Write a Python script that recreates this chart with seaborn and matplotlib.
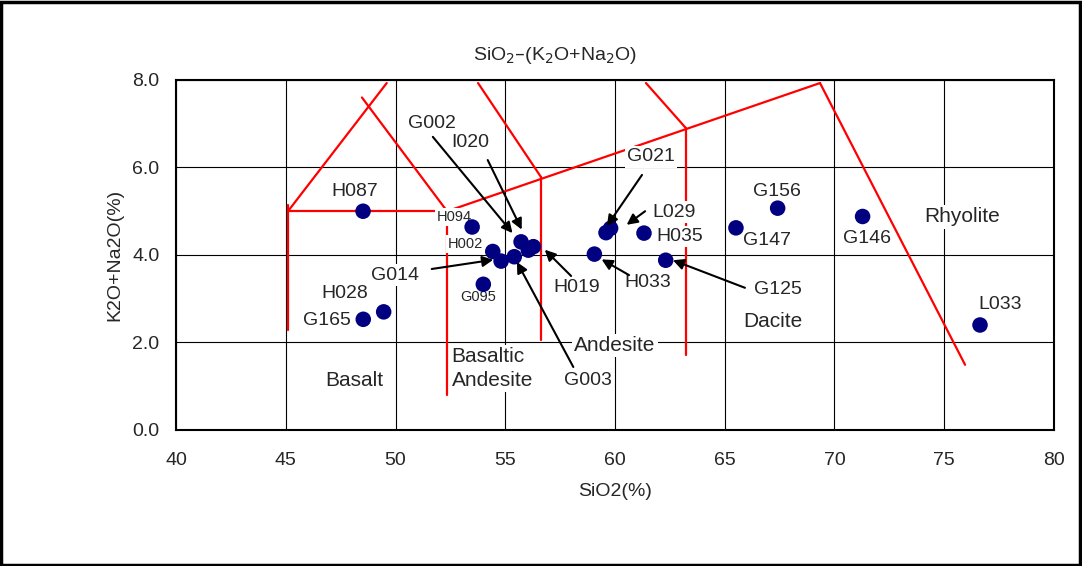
import seaborn as sns
import matplotlib.pyplot as plt
import matplotlib.patches as mpatches
import pandas as pd

# sample points (SiO2, K2O+Na2O)
names = ["H087", "H094", "H002", "G014", "G095", "G002", "G003", "I020", "H019",
         "H033", "G021", "L029", "H035", "G125", "G147", "G156", "G146", "L033",
         "H028", "G165"]
sio2 = [48.52, 53.49, 54.43, 54.81, 54.00, 55.72, 55.41, 56.05, 56.28,
        59.06, 59.59, 59.80, 61.32, 62.31, 65.51, 67.41, 71.28, 76.63,
        49.46, 48.53]
alk = [5.00, 4.64, 4.08, 3.86, 3.33, 4.30, 3.96, 4.11, 4.19,
       4.02, 4.51, 4.61, 4.50, 3.88, 4.62, 5.07, 4.88, 2.40,
       2.70, 2.53]

# label text positions for each sample
lab_x = [48.15, 52.67, 53.20, 49.98, 53.76, 51.66, 58.77, 53.40, 58.27,
         61.50, 61.64, 62.69, 62.96, 67.43, 66.92, 67.38, 71.48, 77.54,
         47.70, 46.88]
lab_y = [5.44, 4.87, 4.25, 3.54, 3.04, 7.00, 1.14, 6.58, 3.25,
         3.36, 6.24, 4.98, 4.43, 3.22, 4.34, 5.44, 4.37, 2.86,
         3.11, 2.51]
small = ["H094", "H002", "G095"]

# arrows: name -> (tail, head)
arrows = {
    "G014": ((51.65, 3.68), (54.45, 3.89)),
    "G002": ((51.70, 6.70), (55.33, 4.50)),
    "I020": ((54.20, 6.17), (55.75, 4.58)),
    "H019": ((58.00, 3.52), (56.80, 4.12)),
    "G003": ((58.10, 1.44), (55.53, 3.84)),
    "G021": ((61.23, 5.83), (59.63, 4.66)),
    "L029": ((61.37, 5.00), (60.53, 4.69)),
    "H033": ((60.64, 3.54), (59.39, 3.90)),
    "G125": ((65.92, 3.25), (62.64, 3.88)),
}

# TAS boundary lines
bound_x = [[45.10, 45.10], [45.10, 52.35], [45.10, 49.60], [48.47, 52.35],
           [52.35, 52.35], [52.35, 69.34], [53.76, 56.63], [56.63, 56.63],
           [61.41, 63.23], [63.23, 63.23], [69.34, 75.95]]
bound_y = [[5.14, 2.29], [5.00, 5.00], [5.00, 7.93], [7.60, 5.00],
           [5.00, 0.80], [5.00, 7.93], [7.93, 5.78], [5.78, 2.06],
           [7.93, 6.90], [6.90, 1.71], [7.93, 1.49]]

# rock type names
rock_names = ["Basalt", "Basaltic\nAndesite", "Andesite", "Dacite", "Rhyolite"]
rock_x = [48.10, 52.55, 60.00, 67.20, 75.80]
rock_y = [1.14, 1.40, 1.94, 2.49, 4.87]

df = pd.DataFrame({"name": names, "SiO2": sio2, "alk": alk})

sns.set_style("white")
plt.rcParams['font.family'] = ['Liberation Sans', 'DejaVu Sans']

fig = plt.figure(figsize=(10.82, 5.66), dpi=100)
ax = fig.add_axes([0.1627, 0.2403, 0.8114, 0.6184])

for bx, by in zip(bound_x, bound_y):
    ax.plot(bx, by, color="red", lw=1.6, zorder=2)

sns.scatterplot(data=df, x="SiO2", y="alk", color="#000080", s=125,
                edgecolor="none", ax=ax, zorder=5)

box = dict(facecolor="white", edgecolor="none", pad=1.5)
for n, tx, ty in zip(names, lab_x, lab_y):
    fs = 10.5 if n in small else 14
    ax.text(tx, ty, n, fontsize=fs, ha="center", va="center", bbox=box, zorder=4)

for n, (tail, head) in arrows.items():
    ax.annotate("", xy=head, xytext=tail, zorder=6,
                arrowprops=dict(arrowstyle="-|>", color="black", lw=1.5,
                                mutation_scale=16, shrinkA=0, shrinkB=0))

for rn, rx, ry in zip(rock_names, rock_x, rock_y):
    ax.text(rx, ry, rn, fontsize=15, ha="left" if "\n" in rn else "center",
            va="center", bbox=box, zorder=4, linespacing=1.35)

ax.set_xlim(40, 80)
ax.set_ylim(0, 8)
ax.set_xticks(range(40, 81, 5))
ax.set_yticks([0, 2, 4, 6, 8])
ax.set_yticklabels(["0.0", "2.0", "4.0", "6.0", "8.0"])
ax.grid(True, color="black", lw=0.8)
ax.set_axisbelow(True)
for sp in ax.spines.values():
    sp.set_color("black")
    sp.set_linewidth(1.5)
ax.tick_params(axis="x", labelsize=14, length=4, pad=12, direction="out", color="black")
ax.tick_params(axis="y", labelsize=14, length=4, pad=8, direction="out", color="black")
ax.set_xlabel("SiO2(%)", fontsize=14, labelpad=10)
ax.set_ylabel("K2O+Na2O(%)", fontsize=14, labelpad=6)
fig.text(555 / 1082, 1 - 55 / 566, "SiO$_2$–(K$_2$O+Na$_2$O)", fontsize=14,
         ha="center", va="center")

# outer frame
fig.patches.append(mpatches.Rectangle((0.001, 0.002), 0.997, 0.995, transform=fig.transFigure,
                                      fill=False, edgecolor="black", lw=2.5))

fig.savefig("out.png", dpi=100)
